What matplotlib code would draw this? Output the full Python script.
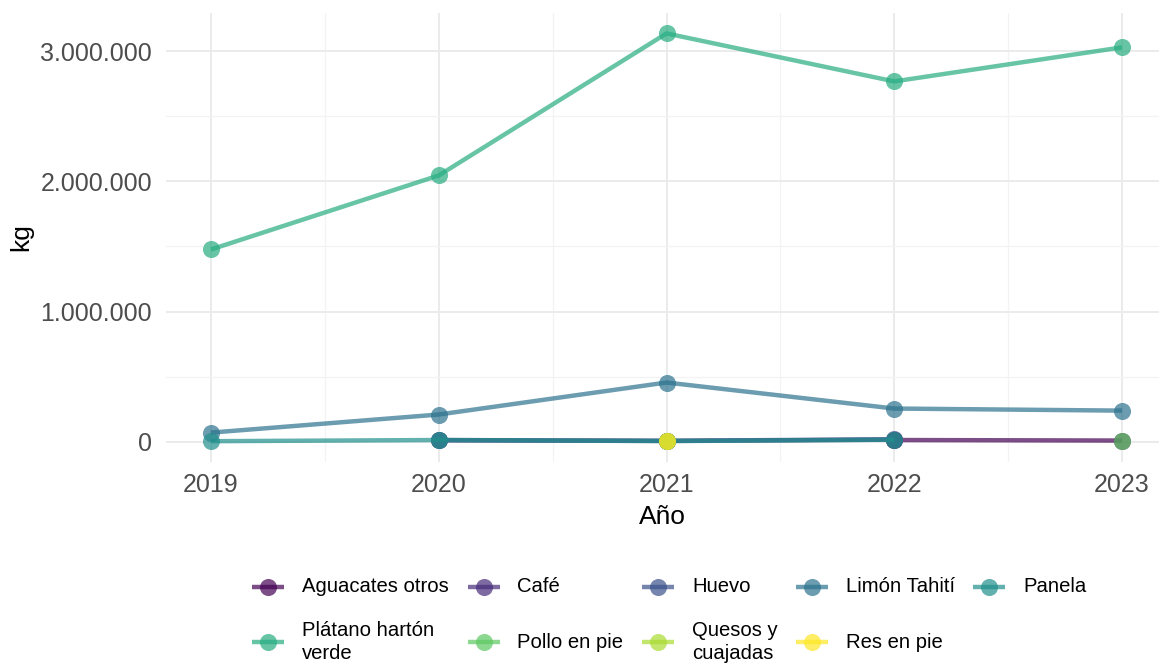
import matplotlib.pyplot as plt
import numpy as np
from matplotlib.ticker import FuncFormatter, MultipleLocator
from matplotlib.lines import Line2D

plt.rcParams['font.family'] = ['Liberation Sans', 'DejaVu Sans']

years = [2019, 2020, 2021, 2022, 2023]
nan = np.nan

# kg por producto y año (valores estimados del gráfico)
aguacates = [nan, nan, nan, 12000, 8000]
cafe = [nan, 10000, 5000, 15000, nan]
huevo = [nan, 12000, 6000, 18000, nan]
limon = [69000, 208000, 454000, 254000, 238000]
panela = [3000, 12000, 4000, 14000, nan]
platano = [1477000, 2046000, 3138000, 2769000, 3031000]
pollo = [nan, nan, nan, nan, 6000]
quesos = [nan, nan, 3000, nan, nan]
res = [nan, nan, 5000, nan, nan]

labels = ["Aguacates otros", "Café", "Huevo", "Limón Tahití", "Panela",
          "Plátano hartón\nverde", "Pollo en pie", "Quesos y\ncuajadas", "Res en pie"]
series = [aguacates, cafe, huevo, limon, panela, platano, pollo, quesos, res]
colors = ["#440154", "#472D7B", "#3B528B", "#2C728E", "#21908C",
          "#27AD81", "#5DC863", "#AADC32", "#FDE725"]

W, H = 1159, 663
fig = plt.figure(figsize=(W / 100, H / 100), dpi=100)
ax = fig.add_axes([166 / W, 1 - 462 / H, 1 - 166 / W, (462 - 13) / H])

LW, MS = 3.2, 12.3
for vals, col, lab in zip(series, colors, labels):
    ax.plot(years, vals, color=col, alpha=0.7, lw=LW, marker='o', ms=MS,
            markeredgewidth=0, solid_capstyle='butt', label=lab)

px_year = (1122 - 211) / 4
ax.set_xlim(2019 - 45 / px_year, 2019 + (W - 211) / px_year)
ax.set_ylim(-157000, 3295000)
ax.set_xticks(years)
ax.xaxis.set_minor_locator(MultipleLocator(0.5))
ax.yaxis.set_major_locator(MultipleLocator(1000000))
ax.yaxis.set_minor_locator(MultipleLocator(500000))
ax.yaxis.set_major_formatter(FuncFormatter(lambda v, p: f"{v:,.0f}".replace(",", ".")))

for s in ax.spines.values():
    s.set_visible(False)
ax.tick_params(which='both', length=0)
ax.tick_params(axis='both', labelsize=18, labelcolor='#4D4D4D')
ax.tick_params(axis='x', pad=8)
ax.tick_params(axis='y', pad=10)
ax.grid(which='major', color='#EBEBEB', lw=1.4)
ax.grid(which='minor', color='#F3F3F3', lw=0.9)
ax.set_axisbelow(True)

ax.set_xlabel("Año", fontsize=19, labelpad=6)
ax.set_ylabel("kg", fontsize=19, labelpad=5)

# leyenda en filas, como en ggplot (posiciones en pixeles de la figura)
key_x = [268, 484, 658, 812, 989]
text_x = [302, 517, 692, 846, 1023]
row_y = [587, 642]
for i, (col, lab) in enumerate(zip(colors, labels)):
    r, c = divmod(i, 5)
    kx, ky = key_x[c] / W, 1 - row_y[r] / H
    half = 16 / W
    fig.add_artist(Line2D([kx - half, kx, kx + half], [ky, ky, ky], transform=fig.transFigure,
                          color=col, alpha=0.7, lw=LW, marker='o', ms=MS, markevery=[1],
                          markeredgewidth=0, solid_capstyle='butt'))
    fig.text(text_x[c] / W, ky, lab, fontsize=14.6, ha='left', va='center',
             linespacing=1.25)

fig.savefig("out.png", dpi=100)
